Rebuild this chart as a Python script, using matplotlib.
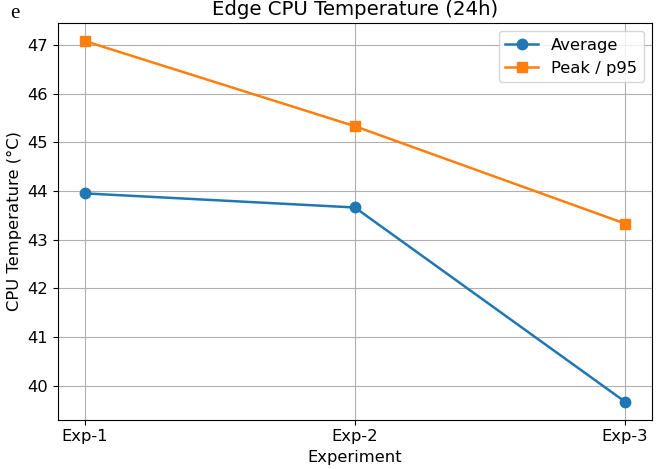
import matplotlib
matplotlib.use("Agg")
import matplotlib.pyplot as plt

experiments = ["Exp-1", "Exp-2", "Exp-3"]
avg_temp = [43.95, 43.66, 39.67]
peak_temp = [47.08, 45.33, 43.33]

plt.rcParams['font.size'] = 11.8
plt.rcParams['lines.linewidth'] = 1.8
plt.rcParams['lines.markersize'] = 7.5

fig = plt.figure(figsize=(6.56, 4.69), dpi=100)
ax = fig.add_axes([0.088, 0.105, 0.906, 0.846])

ax.plot(experiments, avg_temp, marker='o', label='Average')
ax.plot(experiments, peak_temp, marker='s', label='Peak / p95')

ax.set_title("Edge CPU Temperature (24h)", fontsize=14.2)
ax.set_xlabel("Experiment")
ax.set_ylabel("CPU Temperature (°C)")
ax.grid(True)
ax.legend(loc='upper right')

fig.text(0.015, 0.962, "e", family="Liberation Serif", fontsize=15, va='baseline')

fig.savefig("out.png", dpi=100)
